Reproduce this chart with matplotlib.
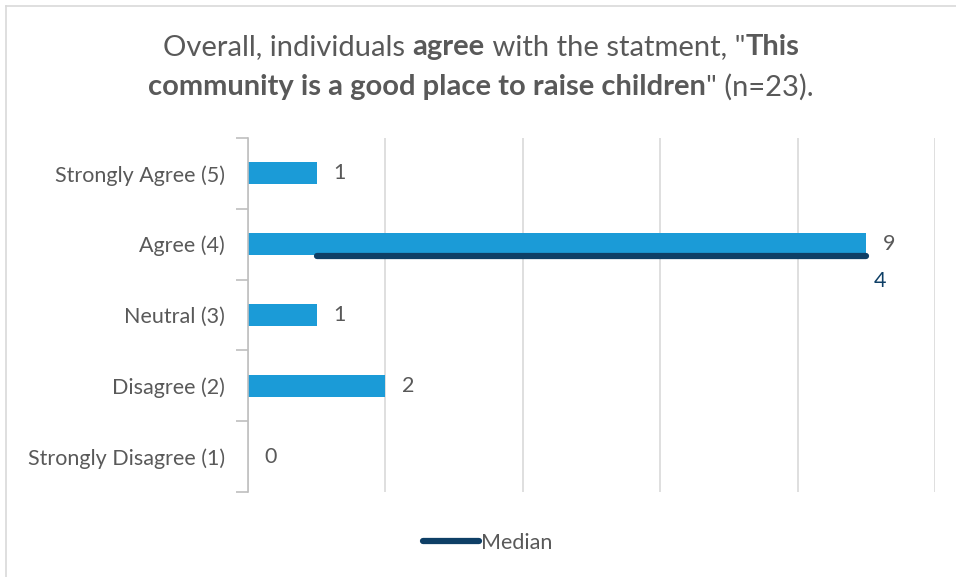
import matplotlib.pyplot as plt
from matplotlib.lines import Line2D

categories = ['Strongly Disagree (1)', 'Disagree (2)', 'Neutral (3)', 'Agree (4)', 'Strongly Agree (5)']
counts = [0, 2, 1, 9, 1]
median = 4
median_span = [1, 9]   # x extent of the median line
median_row = 3          # row index where the median line sits

BAR = '#1B9BD7'
MED = '#0E3F66'
TXT = '#595959'
GRID = '#D9D9D9'

plt.rcParams['font.family'] = ['Lato', 'DejaVu Sans']

fig = plt.figure(figsize=(9.56, 5.77), dpi=100)
W, H = 956, 577

# chart border
fig.add_artist(Line2D([6 / W, 1], [1 - 6 / H, 1 - 6 / H], color='#D9D9D9', lw=1.2, transform=fig.transFigure))
fig.add_artist(Line2D([6 / W, 6 / W], [0, 1 - 6 / H], color='#D9D9D9', lw=1.2, transform=fig.transFigure))

ax = fig.add_axes([248 / W, 85 / H, 687 / W, 354 / H])
y = list(range(len(categories)))
ax.barh(y, counts, height=0.31, color=BAR, zorder=2)
ax.set_xlim(0, 10)
ax.set_ylim(-0.5, len(categories) - 0.5)

ax.set_xticks(range(0, 11, 2))
ax.xaxis.grid(True, color=GRID, lw=1.2, zorder=0)
ax.tick_params(axis='x', length=0, labelbottom=False)

ax.set_yticks(y)
ax.set_yticklabels(categories, fontsize=15.5, color=TXT)
ax.set_yticks([i - 0.5 for i in range(len(categories) + 1)], minor=True)
ax.tick_params(axis='y', which='major', length=0, pad=16.5)
ax.tick_params(axis='y', which='minor', length=9, color='#BFBFBF', width=1.2)

for s in ['top', 'right', 'bottom']:
    ax.spines[s].set_visible(False)
ax.spines['left'].set_color('#BFBFBF')
ax.spines['left'].set_linewidth(1.2)

for i, v in enumerate(counts):
    ax.text(v + 0.24, i, str(v), va='center', ha='left', fontsize=15.5, color=TXT)

# median line
my = median_row - 0.16
ax.plot(median_span, [my, my], color=MED, lw=4.5, solid_capstyle='round', zorder=3)
ax.text(median_span[1] + 0.2, my - 0.36, str(median), ha='center', va='center', fontsize=15.5, color=MED)

# legend
ax.legend([Line2D([0], [0], color=MED, lw=4.5, solid_capstyle='round')], ['Median'],
          loc='center', bbox_to_anchor=(488 / W, 1 - 543 / H), bbox_transform=fig.transFigure,
          frameon=False, fontsize=15.5, labelcolor=TXT, handlelength=2.6, handletextpad=0.1)

# title with mixed weights, centered per line
title_lines = [
    [('Overall, individuals ', 'normal'), ('agree', 'bold'), (' with the statment, "', 'normal'), ('This', 'bold')],
    [('community is a good place to raise children', 'bold'), ('" (n=23).', 'normal')],
]
renderer = fig.canvas.get_renderer()
for line, ypix in zip(title_lines, [47, 87]):
    parts = []
    for s, wt in line:
        t = fig.text(0, 1 - ypix / H, s, fontsize=21, fontweight=wt, color=TXT, va='center', ha='left')
        parts.append(t)
    widths = [p.get_window_extent(renderer).width for p in parts]
    x = (W * 0.5 + 3 - sum(widths) / 2)
    for p, w in zip(parts, widths):
        p.set_x(x / W)
        x += w

fig.savefig('out.png', dpi=100)
